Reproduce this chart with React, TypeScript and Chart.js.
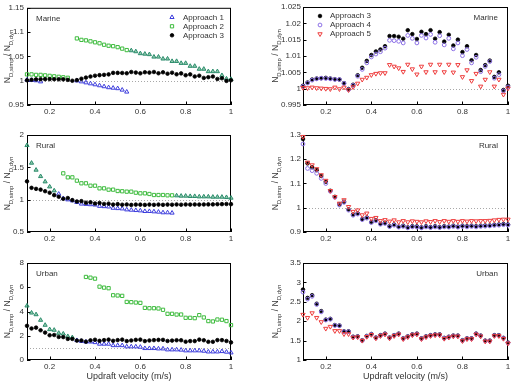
import React, { useEffect, useRef } from "react";
import { Chart, registerables } from "chart.js";
Chart.register(...registerables);

// ---------------- DATA ----------------
const VELOCITY = [0.1, 0.12, 0.14, 0.16, 0.18, 0.2, 0.22, 0.24, 0.26, 0.28, 0.3, 0.32, 0.34, 0.36, 0.38, 0.4, 0.42, 0.44, 0.46, 0.48, 0.5, 0.52, 0.54, 0.56, 0.58, 0.6, 0.62, 0.64, 0.66, 0.68, 0.7, 0.72, 0.74, 0.76, 0.78, 0.8, 0.82, 0.84, 0.86, 0.88, 0.9, 0.92, 0.94, 0.96, 0.98, 1];

const X_TICKS = [0.2, 0.4, 0.6, 0.8, 1];
const REF_LEVEL = 1;

// Marine
const MARINE_A1 = [1.0017, 1.001, 1.0003, 0.998, null, null, null, null, null, null, null, 1.0, 0.998, 0.996, 0.994, 0.992, 0.99, 0.988, 0.986, 0.985, 0.984, 0.981, 0.977, 1.062, 1.06, 1.056, 1.055, 1.054, 1.049, 1.049, 1.045, 1.045, 1.04, 1.04, 1.036, 1.036, 1.03, 1.03, 1.024, 1.024, 1.019, 1.019, 1.019, 1.011, 1.004, 1.003];
const MARINE_A2 = [1.013, 1.013, 1.012, 1.012, 1.011, 1.01, 1.009, 1.008, 1.007, 1.006, null, 1.087, 1.084, 1.083, 1.081, 1.079, 1.077, 1.074, 1.072, 1.071, 1.069, 1.066, 1.063, 1.062, 1.06, 1.056, 1.055, 1.054, 1.049, 1.049, 1.045, 1.045, 1.04, 1.04, 1.036, 1.036, 1.03, 1.03, 1.024, 1.024, 1.019, 1.019, 1.019, 1.011, 1.004, 1.003];
const MARINE_A3 = [1.0009, 1.0019, 1.0028, 1.0031, 1.0032, 1.0033, 1.0031, 1.0029, 1.0028, 1.0017, 0.9999, 1.0012, 1.0041, 1.0064, 1.0085, 1.0103, 1.0114, 1.012, 1.013, 1.0161, 1.0161, 1.0159, 1.0153, 1.0179, 1.0167, 1.0152, 1.0174, 1.0167, 1.0179, 1.0153, 1.0173, 1.0144, 1.0165, 1.0132, 1.015, 1.0112, 1.013, 1.0087, 1.0103, 1.0057, 1.0072, 1.0086, 1.0036, 1.005, 0.9996, 1.0009];
const MARINE_A4 = [1.0007, 1.0017, 1.0026, 1.003, 1.0032, 1.0031, 1.003, 1.0028, 1.0028, 1.0016, 0.9997, 1.001, 1.0038, 1.0059, 1.0079, 1.0097, 1.0106, 1.0113, 1.0124, 1.0148, 1.0147, 1.0145, 1.014, 1.0163, 1.0154, 1.014, 1.0163, 1.0155, 1.0166, 1.0142, 1.0162, 1.0134, 1.0154, 1.0122, 1.014, 1.0101, 1.012, 1.0079, 1.0096, 1.0052, 1.0068, 1.0083, 1.0032, 1.0043, 0.9993, 1.0005];
const MARINE_A5 = [1.0003, 1.0002, 1.0004, 1.0002, 1.0001, 1.0, 0.9999, 1.0004, 0.9999, 1.0004, 0.9996, 1.0005, 1.0016, 1.0028, 1.0034, 1.0042, 1.0046, 1.0048, 1.0048, 1.0073, 1.0068, 1.0063, 1.0052, 1.0074, 1.006, 1.0044, 1.0068, 1.0051, 1.0074, 1.0051, 1.0074, 1.0051, 1.0074, 1.005, 1.0073, 1.0036, 1.0057, 1.0024, 1.0046, 1.0007, 1.0028, 1.0051, 1.0007, 1.0028, 0.9982, 1.0001];

// Rural
const RURAL_A1 = [1.84, 1.567, 1.459, 1.36, 1.278, 1.2, 1.139, 1.088, 1.02, 1.0, 0.985, 0.96, 0.935, 0.93, 0.925, 0.92, 0.9, 0.895, 0.89, 0.87, 0.865, 0.86, 0.845, 0.84, 0.835, 0.83, 0.82, 0.82, 0.815, 0.81, 0.8, 0.8, 0.795, 1.062, 1.057, 1.057, 1.052, 1.052, 1.046, 1.046, 1.046, 1.041, 1.041, 1.041, 1.036, 1.026];
const RURAL_A2 = [1.84, 1.567, 1.459, 1.36, 1.278, 1.2, 1.139, null, 1.407, 1.345, 1.345, 1.294, 1.253, 1.253, 1.216, 1.216, 1.175, 1.175, 1.155, 1.155, 1.134, 1.13, 1.124, 1.124, 1.108, 1.098, 1.098, 1.088, 1.072, 1.072, 1.072, 1.067, 1.067, 1.062, 1.057, 1.057, 1.052, 1.052, 1.046, 1.046, 1.046, 1.041, 1.041, 1.041, 1.036, 1.026];
const RURAL_A3 = [1.2835, 1.183, 1.167, 1.155, 1.131, 1.107, 1.07, 1.045, 1.014, 1.025, 0.993, 0.972, 0.977, 0.953, 0.96, 0.941, 0.949, 0.934, 0.938, 0.924, 0.931, 0.922, 0.926, 0.919, 0.924, 0.923, 0.919, 0.924, 0.92, 0.924, 0.92, 0.924, 0.922, 0.926, 0.922, 0.926, 0.924, 0.926, 0.924, 0.926, 0.927, 0.927, 0.93, 0.931, 0.933, 0.931];
const RURAL_A4 = [1.263, 1.162, 1.153, 1.142, 1.121, 1.1, 1.068, 1.043, 1.011, 1.022, 0.99, 0.969, 0.974, 0.951, 0.957, 0.939, 0.946, 0.932, 0.935, 0.922, 0.928, 0.92, 0.923, 0.917, 0.921, 0.92, 0.917, 0.921, 0.918, 0.921, 0.918, 0.921, 0.92, 0.923, 0.92, 0.923, 0.921, 0.923, 0.921, 0.923, 0.924, 0.925, 0.927, 0.928, 0.93, 0.929];
const RURAL_A5 = [1.293, 1.187, 1.176, 1.16, 1.135, 1.112, 1.07, 1.045, 1.018, 1.032, 1.004, 0.984, 0.99, 0.97, 0.977, 0.955, 0.959, 0.946, 0.95, 0.944, 0.949, 0.941, 0.946, 0.941, 0.945, 0.943, 0.941, 0.945, 0.942, 0.946, 0.942, 0.946, 0.943, 0.946, 0.943, 0.946, 0.944, 0.946, 0.945, 0.946, 0.946, 0.947, 0.949, 0.951, 0.952, 0.952];

// Urban
const URBAN_A1 = [4.47, 3.89, 3.75, 3.29, 2.88, 2.52, 2.47, 2.22, 2.16, 1.95, 1.86, 1.62, 1.55, 1.5, 1.5, 1.45, 1.32, 1.32, 1.32, 1.2, 1.2, 1.2, 1.1, 1.1, 1.1, 1.07, 0.96, 0.96, 0.96, 0.93, 0.93, 0.85, 0.85, 0.85, 0.83, 0.77, 0.77, 0.77, 0.77, 0.74, 0.68, 0.68, 0.68, 0.71, 0.66, 0.6];
const URBAN_A2 = [4.47, 3.89, 3.75, 3.29, 2.88, 2.52, 2.47, 2.22, 2.16, 1.95, 1.86, null, null, 6.85, 6.79, 6.71, 6.05, 5.97, 5.92, 5.34, 5.32, 5.29, 4.79, 4.77, 4.74, 4.71, 4.3, 4.27, 4.27, 4.25, 4.14, 3.81, 3.81, 3.75, 3.75, 3.48, 3.48, 3.45, 3.7, 3.51, 3.21, 3.18, 3.34, 3.32, 3.21, 2.88];
const URBAN_A3 = [2.815, 2.6, 2.67, 2.45, 2.26, 2.04, 2.06, 1.9, 1.89, 1.74, 1.74, 1.6, 1.61, 1.51, 1.62, 1.67, 1.58, 1.64, 1.68, 1.58, 1.64, 1.68, 1.56, 1.61, 1.66, 1.68, 1.56, 1.61, 1.64, 1.66, 1.66, 1.57, 1.6, 1.63, 1.63, 1.51, 1.56, 1.56, 1.68, 1.63, 1.5, 1.5, 1.64, 1.64, 1.57, 1.45];
const URBAN_A4 = [2.75, 2.57, 2.64, 2.43, 2.24, 2.03, 2.05, 1.89, 1.88, 1.73, 1.73, 1.59, 1.6, 1.5, 1.61, 1.66, 1.57, 1.63, 1.67, 1.57, 1.63, 1.67, 1.55, 1.6, 1.65, 1.67, 1.55, 1.6, 1.63, 1.65, 1.65, 1.56, 1.59, 1.62, 1.62, 1.5, 1.55, 1.55, 1.67, 1.62, 1.49, 1.49, 1.63, 1.63, 1.56, 1.44];
const URBAN_A5 = [2.17, 2.09, 2.21, 2.09, 1.98, 1.81, 1.86, 1.75, 1.75, 1.67, 1.67, 1.58, 1.59, 1.5, 1.6, 1.65, 1.56, 1.62, 1.66, 1.56, 1.62, 1.66, 1.54, 1.59, 1.64, 1.66, 1.54, 1.59, 1.62, 1.64, 1.64, 1.55, 1.58, 1.61, 1.61, 1.49, 1.54, 1.54, 1.66, 1.61, 1.48, 1.48, 1.62, 1.62, 1.55, 1.43];

const Y_TICKS_MARINE_L = [0.95, 1, 1.05, 1.1, 1.15];
const Y_TICKS_MARINE_R = [0.995, 1, 1.005, 1.01, 1.015, 1.02, 1.025];
const Y_TICKS_RURAL_L = [0.5, 1, 1.5, 2];
const Y_TICKS_RURAL_R = [0.9, 1, 1.1, 1.2, 1.3];
const Y_TICKS_URBAN_L = [0, 2, 4, 6, 8];
const Y_TICKS_URBAN_R = [1, 1.5, 2, 2.5, 3, 3.5];

const LABELS = { A1: "Approach 1", A2: "Approach 2", A3: "Approach 3", A4: "Approach 4", A5: "Approach 5" };
const X_TITLE = "Updraft velocity (m/s)";

// ---------------- STYLE ----------------
const FONT = '"Liberation Sans", Arial, Helvetica, sans-serif';
const TXT = "#333333";

type Kind = "A1" | "A2" | "A3" | "A4" | "A5";
type Mark = { style: string; r: number; stroke: string; fill: string; bw: number; rot: number };
const MARK: Record<Kind, Mark> = {
  A1: { style: "triangle", r: 2.4, stroke: "#3c3cdc", fill: "rgba(0,0,0,0)", bw: 1, rot: 0 },
  A2: { style: "rect", r: 2.3, stroke: "#3dbb3d", fill: "rgba(0,0,0,0)", bw: 1, rot: 0 },
  A3: { style: "circle", r: 1.8, stroke: "#000000", fill: "#000000", bw: 0.8, rot: 0 },
  A4: { style: "circle", r: 1.9, stroke: "#8c70e6", fill: "rgba(0,0,0,0)", bw: 1, rot: 0 },
  A5: { style: "triangle", r: 2.5, stroke: "#ee3d3d", fill: "rgba(0,0,0,0)", bw: 1, rot: 180 },
};
const SHARED: Mark = { style: "triangle", r: 2.4, stroke: "#2b8c6c", fill: "rgba(60,160,110,0.55)", bw: 1, rot: 0 };

type SeriesCfg = { kind: Kind; values: (number | null)[]; partner?: (number | null)[]; order: number };
type PanelCfg = {
  key: string; left: number; top: number; w: number; h: number;
  yW: number; padT: number; padR: number; xH: number; yPad: number;
  yMin: number; yMax: number; yTicks: number[];
  name: string; nameSide: "left" | "right";
  series: SeriesCfg[]; legend?: { dx: number; dy: number; tx: number };
  titleX: number; xTitle: boolean;
};

const leftSeries = (a1: (number | null)[], a2: (number | null)[], a3: number[]): SeriesCfg[] => [
  { kind: "A1", values: a1, partner: a2, order: 2 },
  { kind: "A2", values: a2, partner: a1, order: 1 },
  { kind: "A3", values: a3, order: 0 },
];
const rightSeries = (a3: number[], a4: number[], a5: number[]): SeriesCfg[] => [
  { kind: "A3", values: a3, order: 2 },
  { kind: "A4", values: a4, order: 1 },
  { kind: "A5", values: a5, order: 0 },
];

const PANELS: PanelCfg[] = [
  { key: "ml", left: 0, top: 0, w: 260, h: 127, yW: 27, padT: 7, padR: 29, xH: 22, yPad: 3, yMin: 0.95, yMax: 1.15, yTicks: Y_TICKS_MARINE_L, name: "Marine", nameSide: "left", series: leftSeries(MARINE_A1, MARINE_A2, MARINE_A3), legend: { dx: 145, dy: 9.5, tx: 156 }, titleX: 7.5, xTitle: false },
  { key: "mr", left: 260, top: 0, w: 261, h: 127, yW: 43, padT: 7, padR: 13, xH: 22, yPad: 2, yMin: 0.995, yMax: 1.025, yTicks: Y_TICKS_MARINE_R, name: "Marine", nameSide: "right", series: rightSeries(MARINE_A3, MARINE_A4, MARINE_A5), legend: { dx: 17, dy: 9, tx: 27 }, titleX: 15.5, xTitle: false },
  { key: "rl", left: 0, top: 127, w: 260, h: 120, yW: 27, padT: 8, padR: 29, xH: 15, yPad: 3, yMin: 0.5, yMax: 2, yTicks: Y_TICKS_RURAL_L, name: "Rural", nameSide: "left", series: leftSeries(RURAL_A1, RURAL_A2, RURAL_A3), titleX: 7.5, xTitle: false },
  { key: "rr", left: 260, top: 127, w: 261, h: 120, yW: 43, padT: 8, padR: 13, xH: 15, yPad: 2, yMin: 0.9, yMax: 1.3, yTicks: Y_TICKS_RURAL_R, name: "Rural", nameSide: "right", series: rightSeries(RURAL_A3, RURAL_A4, RURAL_A5), titleX: 15.5, xTitle: false },
  { key: "ul", left: 0, top: 247, w: 260, h: 134, yW: 27, padT: 16, padR: 29, xH: 21, yPad: 3, yMin: 0, yMax: 8, yTicks: Y_TICKS_URBAN_L, name: "Urban", nameSide: "left", series: leftSeries(URBAN_A1, URBAN_A2, URBAN_A3), titleX: 7.5, xTitle: true },
  { key: "ur", left: 260, top: 247, w: 261, h: 134, yW: 43, padT: 16, padR: 13, xH: 21, yPad: 2, yMin: 1, yMax: 3.5, yTicks: Y_TICKS_URBAN_R, name: "Urban", nameSide: "right", series: rightSeries(URBAN_A3, URBAN_A4, URBAN_A5), titleX: 15.5, xTitle: true },
];

const fmt = (v: number) => String(Math.round(v * 10000) / 10000);

function drawMarker(ctx: CanvasRenderingContext2D, m: Mark, x: number, y: number) {
  ctx.save();
  ctx.beginPath();
  ctx.lineWidth = m.bw;
  ctx.strokeStyle = m.stroke;
  ctx.fillStyle = m.fill;
  if (m.style === "circle") {
    ctx.arc(x, y, m.r, 0, Math.PI * 2);
  } else if (m.style === "rect") {
    const s = m.r * Math.SQRT1_2;
    ctx.rect(x - s, y - s, 2 * s, 2 * s);
  } else {
    let rad = (m.rot * Math.PI) / 180;
    ctx.moveTo(x + Math.sin(rad) * m.r, y - Math.cos(rad) * m.r);
    rad += (2 * Math.PI) / 3;
    ctx.lineTo(x + Math.sin(rad) * m.r, y - Math.cos(rad) * m.r);
    rad += (2 * Math.PI) / 3;
    ctx.lineTo(x + Math.sin(rad) * m.r, y - Math.cos(rad) * m.r);
    ctx.closePath();
  }
  ctx.fill();
  if (m.bw > 0) ctx.stroke();
  ctx.restore();
}

function makePlugin(p: PanelCfg) {
  return {
    id: "deco_" + p.key,
    beforeDatasetsDraw(chart: any) {
      const { ctx, chartArea: a, scales } = chart;
      const ys = scales.y;
      const xs = scales.x;
      ctx.save();
      if (REF_LEVEL > p.yMin && REF_LEVEL < p.yMax) {
        const py = Math.round(ys.getPixelForValue(REF_LEVEL)) + 0.5;
        ctx.strokeStyle = "#a8a8a8";
        ctx.lineWidth = 1;
        ctx.setLineDash([1, 2]);
        ctx.beginPath();
        ctx.moveTo(a.left, py);
        ctx.lineTo(a.right, py);
        ctx.stroke();
        ctx.setLineDash([]);
      }
      ctx.strokeStyle = "#000";
      ctx.lineWidth = 1;
      ctx.strokeRect(a.left + 0.5, a.top + 0.5, a.right - a.left - 1, a.bottom - a.top - 1);
      ctx.beginPath();
      for (const t of p.yTicks) {
        const py = Math.round(ys.getPixelForValue(t)) + 0.5;
        ctx.moveTo(a.left, py);
        ctx.lineTo(a.left + 3.5, py);
      }
      for (const t of X_TICKS) {
        const px = Math.round(xs.getPixelForValue(t)) + 0.5;
        ctx.moveTo(px, a.bottom);
        ctx.lineTo(px, a.bottom - 3.5);
      }
      ctx.stroke();
      ctx.restore();
    },
    afterDraw(chart: any) {
      const { ctx, chartArea: a } = chart;
      ctx.save();
      ctx.fillStyle = TXT;
      ctx.textBaseline = "middle";
      ctx.font = `8px ${FONT}`;
      if (p.nameSide === "left") {
        ctx.textAlign = "left";
        ctx.fillText(p.name, a.left + 9, a.top + 11);
      } else {
        ctx.textAlign = "right";
        ctx.fillText(p.name, a.right - 10, a.top + 11);
      }
      if (p.legend) {
        ctx.textAlign = "left";
        p.series
          .slice()
          .sort((s1, s2) => s1.kind.localeCompare(s2.kind))
          .forEach((s, i) => {
            const y = a.top + p.legend!.dy + i * 9;
            drawMarker(ctx, MARK[s.kind], a.left + p.legend!.dx, y);
            ctx.fillStyle = TXT;
            ctx.fillText(LABELS[s.kind], a.left + p.legend!.tx, y);
          });
      }
      // y title with subscripts
      const parts: [string, number, number][] = [["N", 8.5, 0], ["D,simp", 6, 2.5], [" / N", 8.5, 0], ["D,dyn", 6, 2.5]];
      let total = 0;
      const widths = parts.map(([t, s]) => {
        ctx.font = `${s}px ${FONT}`;
        const w = ctx.measureText(t).width;
        total += w;
        return w;
      });
      ctx.save();
      ctx.translate(p.titleX, (a.top + a.bottom) / 2);
      ctx.rotate(-Math.PI / 2);
      ctx.textAlign = "left";
      ctx.textBaseline = "alphabetic";
      let xx = -total / 2;
      parts.forEach(([t, s, dy], i) => {
        ctx.font = `${s}px ${FONT}`;
        ctx.fillText(t, xx, 2.5 + dy);
        xx += widths[i];
      });
      ctx.restore();
      if (p.xTitle) {
        ctx.font = `9px ${FONT}`;
        ctx.textAlign = "center";
        ctx.textBaseline = "middle";
        ctx.fillText(X_TITLE, (a.left + a.right) / 2, a.bottom + 17);
      }
      ctx.restore();
    },
  };
}

function Panel({ p }: { p: PanelCfg }) {
  const ref = useRef<HTMLCanvasElement | null>(null);
  useEffect(() => {
    if (!ref.current) return;
    const datasets = p.series.map((s) => {
      const m = MARK[s.kind];
      const isShared = (i: number) =>
        !!s.partner && s.values[i] != null && s.partner[i] != null && s.values[i] === s.partner[i];
      const hideShared = s.kind === "A1";
      const pick = (i: number): Mark => (isShared(i) && !hideShared ? SHARED : m);
      return {
        label: LABELS[s.kind],
        data: VELOCITY.map((x, i) => ({ x, y: s.values[i] })),
        showLine: false,
        clip: false as any,
        order: s.order,
        pointStyle: (c: any) => pick(c.dataIndex).style,
        pointRadius: (c: any) => (isShared(c.dataIndex) && hideShared ? 0 : pick(c.dataIndex).r),
        pointBorderColor: (c: any) => pick(c.dataIndex).stroke,
        pointBackgroundColor: (c: any) => pick(c.dataIndex).fill,
        pointBorderWidth: (c: any) => pick(c.dataIndex).bw,
        pointRotation: (c: any) => pick(c.dataIndex).rot,
        pointHoverRadius: 0,
      };
    });
    const tickFont = { size: 8, family: FONT };
    const chart = new Chart(ref.current, {
      type: "scatter",
      data: { datasets: datasets as any },
      options: {
        responsive: false,
        animation: false,
        events: [],
        layout: { padding: { left: 0, right: p.padR, top: p.padT, bottom: 0 } },
        plugins: { legend: { display: false }, tooltip: { enabled: false } },
        scales: {
          x: {
            type: "linear",
            min: 0.1,
            max: 1,
            afterBuildTicks: (s: any) => {
              s.ticks = X_TICKS.map((v) => ({ value: v }));
            },
            afterFit: (s: any) => {
              s.height = p.xH;
            },
            grid: { display: false, drawTicks: false },
            border: { display: false },
            ticks: { font: tickFont, color: TXT, padding: 2, autoSkip: false, maxRotation: 0, callback: (v: any) => fmt(Number(v)) },
          },
          y: {
            type: "linear",
            min: p.yMin,
            max: p.yMax,
            afterBuildTicks: (s: any) => {
              s.ticks = p.yTicks.map((v) => ({ value: v }));
            },
            afterFit: (s: any) => {
              s.width = p.yW;
            },
            grid: { display: false, drawTicks: false },
            border: { display: false },
            ticks: { font: tickFont, color: TXT, padding: p.yPad, autoSkip: false, callback: (v: any) => fmt(Number(v)) },
          },
        },
      } as any,
      plugins: [makePlugin(p)],
    });
    return () => chart.destroy();
  }, [p]);
  return (
    <canvas
      ref={ref}
      width={p.w}
      height={p.h}
      style={{ position: "absolute", left: p.left, top: p.top, width: p.w, height: p.h }}
    />
  );
}

export default function App() {
  return (
    <div style={{ position: "fixed", left: 0, top: 0, width: 521, height: 381, background: "#ffffff", overflow: "hidden" }}>
      {PANELS.map((p) => (
        <Panel key={p.key} p={p} />
      ))}
    </div>
  );
}
